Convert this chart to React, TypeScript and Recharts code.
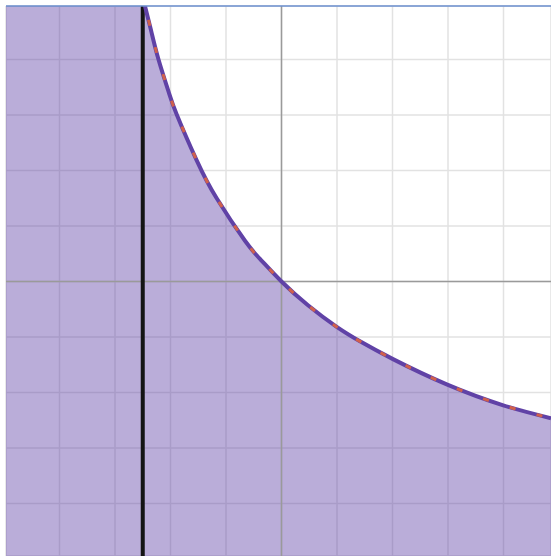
import React from "react";
import { ComposedChart, Area, Line, XAxis, YAxis, CartesianGrid, ReferenceLine } from "recharts";

// Curve values (graph units); first point lies just above the top edge
const curveX = [-2.52, -2.459, -2.351, -2.216, -2.036, -1.888, -1.528, -1.168, -0.658, -0.369, 0, 0.477, 0.995, 1.414, 2.009, 2.977, 3.996, 4.856];
const curveY = [5.2, 4.959, 4.527, 4.001, 3.425, 3.011, 2.183, 1.499, 0.734, 0.387, 0, -0.429, -0.818, -1.078, -1.399, -1.854, -2.231, -2.463];

// Region left of the asymptote is shaded over the full height
const leftRegionX = [-5, -2.5];
const leftRegionTop = [6, 6];

const asymptoteX = -2.5;
const gridTicks = [-4, -3, -2, -1, 0, 1, 2, 3, 4];
const xDomain = [-4.964, 4.856];
const yDomain = [-4.946, 4.964];

const curveData = curveX.map((x, i) => ({ x, y: curveY[i] }));
const leftData = leftRegionX.map((x, i) => ({ x, y: leftRegionTop[i] }));

const asymptoteData = [
  { x: asymptoteX, y: -6 },
  { x: asymptoteX, y: 6 },
];
const yAxisLineData = [
  { x: 0, y: -6 },
  { x: 0, y: 6 },
];
const xAxisLineData = [
  { x: -6, y: 0 },
  { x: 6, y: 0 },
];

export default function App() {
  return (
    <div style={{ position: "absolute", left: 0, top: 0, width: 551, height: 556, overflow: "hidden", background: "#fff" }}>
      <ComposedChart width={551} height={556} margin={{ top: 6, left: 6, right: 0, bottom: 0 }}>
        <XAxis type="number" dataKey="x" domain={xDomain} ticks={gridTicks} allowDataOverflow hide />
        <YAxis type="number" domain={yDomain} ticks={gridTicks} allowDataOverflow hide />
        <CartesianGrid stroke="#e2e2e2" strokeWidth={1.5} />
        <Line data={yAxisLineData} dataKey="y" type="linear" stroke="#9a9a9a" strokeWidth={1.5} dot={false} isAnimationActive={false} />
        <Line data={xAxisLineData} dataKey="y" type="linear" stroke="#9a9a9a" strokeWidth={1.5} dot={false} isAnimationActive={false} />
        <Area data={leftData} dataKey="y" type="linear" baseValue="dataMin" stroke="none" fill="#6042a6" fillOpacity={0.43} isAnimationActive={false} />
        <Area data={curveData} dataKey="y" type="natural" baseValue="dataMin" stroke="none" fill="#6042a6" fillOpacity={0.43} isAnimationActive={false} />
        <Line data={asymptoteData} dataKey="y" type="linear" stroke="#141414" strokeWidth={4} dot={false} isAnimationActive={false} />
        <Line data={curveData} dataKey="y" type="natural" stroke="#6042a6" strokeWidth={4} dot={false} isAnimationActive={false} />
        <Line data={curveData} dataKey="y" type="natural" stroke="#d0604c" strokeWidth={3} strokeDasharray="6 22" dot={false} isAnimationActive={false} />
        <ReferenceLine y={yDomain[1]} stroke="#6b8fcf" strokeWidth={1.5} />
      </ComposedChart>
    </div>
  );
}
